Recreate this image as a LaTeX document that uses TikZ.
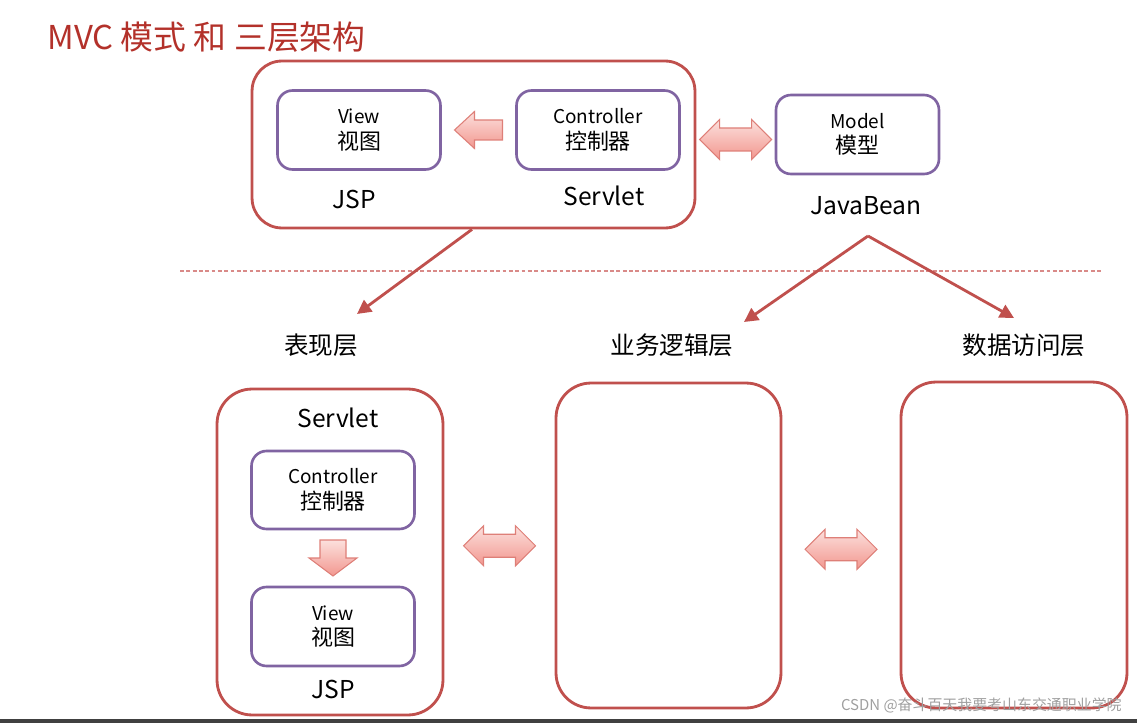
\documentclass[tikz,border=0pt]{standalone}
\usepackage{fontspec}
\setmainfont{Noto Sans CJK SC}
\usetikzlibrary{positioning,calc,arrows.meta}

\definecolor{framered}{HTML}{C0504D}
\definecolor{boxpurple}{HTML}{8064A2}
\definecolor{titlered}{HTML}{B3312A}
\definecolor{blocktop}{HTML}{FCE0DD}
\definecolor{blockbot}{HTML}{F2978F}
\definecolor{blockline}{HTML}{DE7F78}
\definecolor{rulered}{HTML}{D98A88}

\newcommand{\cjkline}[1]{{\fontsize{12.5}{14}\selectfont #1}}

\tikzset{
  frame/.style={draw=framered, line width=1.6pt, rounded corners=0.6cm, inner sep=0pt},
  part/.style={draw=boxpurple, line width=1.5pt, rounded corners=0.3cm, inner sep=0pt,
    minimum width=3.26cm, minimum height=1.58cm, align=center,
    font=\fontsize{10.8}{14.5}\selectfont},
  tag/.style={font=\fontsize{14}{16}\selectfont, inner sep=0pt},
  flow/.style={draw=blockline, line width=0.6pt, top color=blocktop, bottom color=blockbot},
  link/.style={draw=framered, line width=1.6pt, -{Triangle[length=8pt,width=8pt]}},
  leftflow/.pic={\path[flow] (-24,0) -- (-4,-18.5) -- (-4,-10) -- (24,-10) -- (24,10)
    -- (-4,10) -- (-4,18.5) -- cycle;},
  downflow/.pic={\path[flow] (0,18) -- (-24,0) -- (-13,0) -- (-13,-18) -- (13,-18)
    -- (13,0) -- (24,0) -- cycle;},
  bothflow/.pic={\path[flow] (-36,0) -- (-16,-20) -- (-16,-11.5) -- (16,-11.5) -- (16,-20)
    -- (36,0) -- (16,20) -- (16,11.5) -- (-16,11.5) -- (-16,20) -- cycle;},
}

\begin{document}
\begin{tikzpicture}[x=0.02cm,y=-0.02cm]
  \useasboundingbox (0,0) rectangle (1137,723);

  % Title
  \node[anchor=west, text=titlered, inner sep=0pt, font=\fontsize{18.7}{20}\selectfont] (title) at (47,37) {MVC 模式 和 三层架构};

  % Drawing MVC frame
  \node[frame, minimum width=8.86cm, minimum height=3.34cm] (mvc) at (473.5,144.5) {};
  \node[part] (view) at (359,130) {View\\\cjkline{视图}};
  \node[part] (ctrl) at (598,130) {Controller\\\cjkline{控制器}};
  \node[tag] (jsp) at (354,199) {JSP};
  \node[tag] (servlet) at (604,196) {Servlet};
  \pic at ($(view.east)!0.5!(ctrl.west)$) {leftflow};

  % Drawing model
  \node[part] (model) at (857.5,134.5) {Model\\\cjkline{模型}};
  \node[tag] (bean) at (866,206) {JavaBean};
  \pic at ($(mvc.east)!0.5!(model.west)$) {bothflow};

  % Drawing separator
  \draw[rulered, line width=0.7pt, dash pattern=on 2.2pt off 1.4pt] (180,271) -- (1103,271);

  % Layer labels
  \node[tag] (present) at (321,345) {表现层};
  \node[tag] (logic) at (672,345) {业务逻辑层};
  \node[tag] (data) at (1024,345) {数据访问层};

  % Drawing links
  \coordinate (start) at (mvc.south -| 472,0);
  \coordinate (presend) at (357,314);
  \coordinate (fork) at (868,236);
  \coordinate (logicend) at (744,322);
  \coordinate (dataend) at (1014,318);
  \draw[link] (start) -- (presend);
  \draw[link] (fork) -- (logicend);
  \draw[link] (fork) -- (dataend);

  % Drawing layer frames
  \node[frame, rounded corners=0.7cm, minimum width=4.52cm, minimum height=6.52cm] (web) at (330,552) {};
  \node[frame, rounded corners=0.7cm, minimum width=4.5cm, minimum height=6.5cm] (service) at (668.5,545.5) {};
  \node[frame, rounded corners=0.7cm, minimum width=4.52cm, minimum height=6.52cm] (dao) at (1014,545) {};

  % Inside presentation layer
  \node[tag] (servlet2) at (338,418) {Servlet};
  \node[part, minimum height=1.56cm] (ctrl2) at (333,490) {Controller\\\cjkline{控制器}};
  \node[part] (view2) at (333,626.5) {View\\\cjkline{视图}};
  \node[tag] (jsp2) at (333,689) {JSP};
  \pic at ($(ctrl2.south)!0.5!(view2.north)$) {downflow};

  % Drawing layer arrows
  \pic at ($(web.east)!0.5!(service.west)+(0,-3)$) {bothflow};
  \pic at ($(service.east)!0.5!(dao.west)+(0,4)$) {bothflow};

  % Watermark
  \node[anchor=east, text=gray!75, inner sep=0pt, font=\fontsize{8.5}{10}\selectfont] (mark) at (1122,705) {CSDN @奋斗百天我要考山东交通职业学院};
  \fill[black!75] (0,719) rectangle (1137,723);
\end{tikzpicture}
\end{document}
